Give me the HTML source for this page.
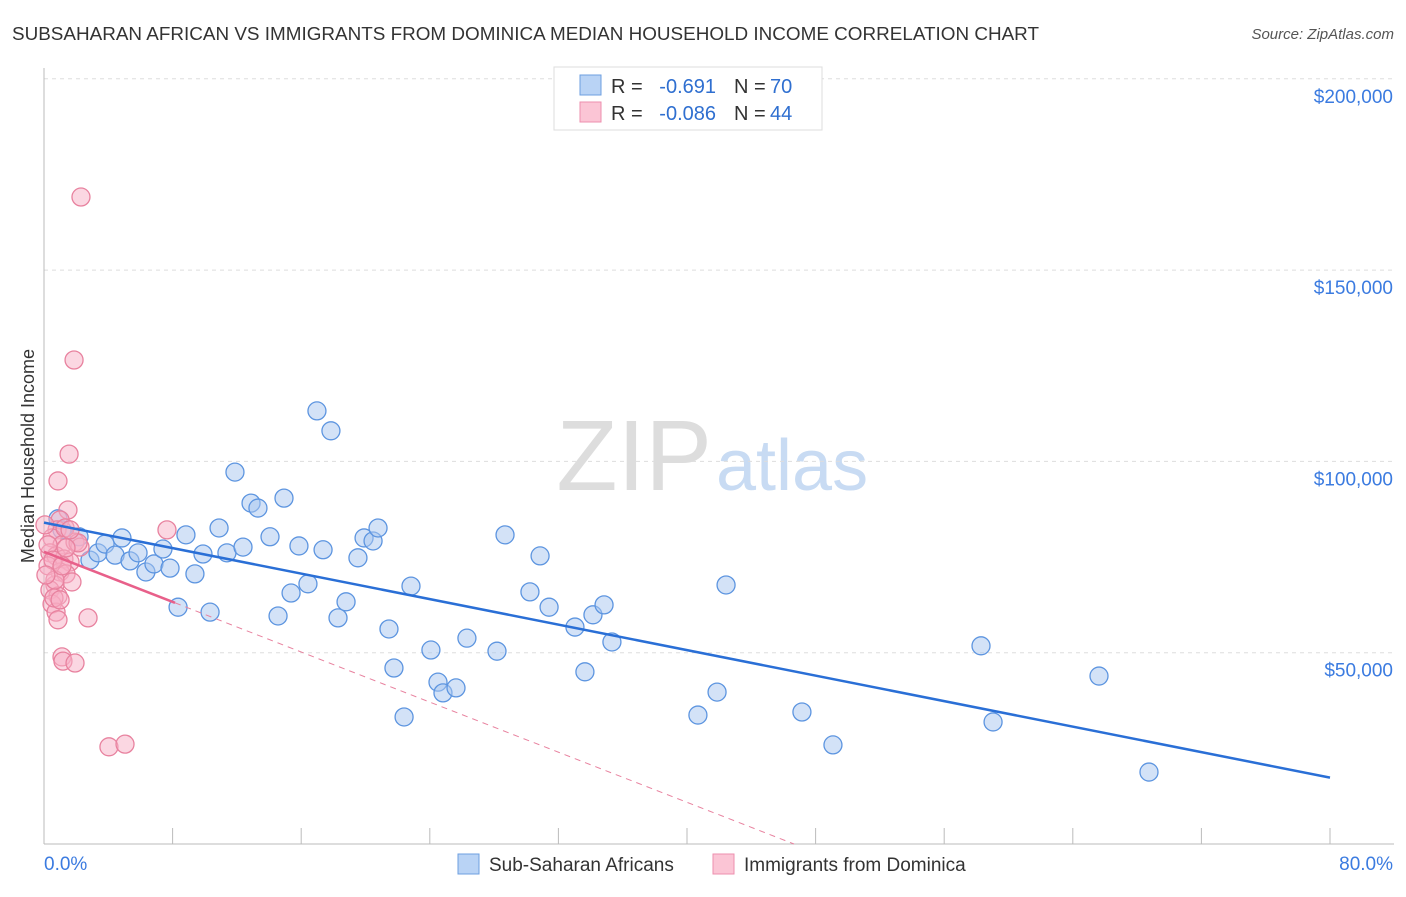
<!DOCTYPE html>
<html><head><meta charset="utf-8"><style>
body{margin:0;background:#fff;font-family:"Liberation Sans",sans-serif;}
svg text{font-family:"Liberation Sans",sans-serif;}
</style></head><body>
<svg id="c" width="1406" height="892" xmlns="http://www.w3.org/2000/svg">
<text x="12" y="40" font-size="18" fill="#333" textLength="1027" lengthAdjust="spacingAndGlyphs">SUBSAHARAN AFRICAN VS IMMIGRANTS FROM DOMINICA MEDIAN HOUSEHOLD INCOME CORRELATION CHART</text>
<text x="1394" y="39" font-size="15" fill="#555" font-style="italic" text-anchor="end">Source: ZipAtlas.com</text>
<text x="34" y="456" font-size="18" fill="#333" transform="rotate(-90 34 456)" text-anchor="middle">Median Household Income</text>
<text x="712" y="490" font-size="100" fill="#ddd" text-anchor="end" font-family="Liberation Serif">ZIP</text>
<text x="716" y="490" font-size="72" fill="#c8dbf3">atlas</text>
<g id="grid"></g><g id="axes"></g><g id="blue"></g><g id="pink"></g><g id="lines"></g>
<g>
<rect x="554" y="67" width="268" height="63" fill="#fff" stroke="#ddd"/>
<rect x="580" y="75" width="21" height="20" fill="#b9d3f5" stroke="#6d9fe0"/>
<rect x="580" y="102" width="21" height="20" fill="#fbc5d5" stroke="#ee8fae"/>
<text x="611" y="93" font-size="20" fill="#333">R =</text>
<text x="716" y="93" font-size="20" fill="#2f6fd0" text-anchor="end">-0.691</text>
<text x="734" y="93" font-size="20" fill="#333">N =</text>
<text x="770" y="93" font-size="20" fill="#2f6fd0">70</text>
<text x="611" y="120" font-size="20" fill="#333">R =</text>
<text x="716" y="120" font-size="20" fill="#2f6fd0" text-anchor="end">-0.086</text>
<text x="734" y="120" font-size="20" fill="#333">N =</text>
<text x="770" y="120" font-size="20" fill="#2f6fd0">44</text>
</g>
<g>
<rect x="458" y="854" width="21" height="20" fill="#b9d3f5" stroke="#6d9fe0"/>
<text x="489" y="871" font-size="19" fill="#333">Sub-Saharan Africans</text>
<rect x="713" y="854" width="21" height="20" fill="#fbc5d5" stroke="#ee8fae"/>
<text x="744" y="871" font-size="19" fill="#333">Immigrants from Dominica</text>
</g>
</svg>
<script>
const blueX=[0.87,1.12,2.18,2.86,3.36,3.80,4.42,4.85,5.35,5.85,6.34,6.84,7.40,7.84,8.34,8.83,9.39,9.89,10.33,10.89,11.38,12.38,11.88,12.88,13.31,14.06,14.56,14.93,15.37,15.86,16.42,16.98,17.36,17.85,18.29,18.79,19.53,19.91,20.47,20.78,21.46,21.77,22.40,22.83,24.07,24.51,24.82,25.63,26.31,28.18,28.68,30.23,30.86,31.42,33.03,33.65,34.15,34.84,35.33,40.68,41.87,42.43,47.15,49.08,58.29,59.04,65.63,68.74];
const blueY=[85.0,82.1,80.3,74.2,76.1,78.4,75.5,80.0,74.0,76.1,71.1,73.2,77.1,72.1,61.9,80.8,70.6,75.8,60.6,82.6,76.1,77.6,97.2,89.1,87.8,80.3,59.6,90.4,65.6,77.9,68.0,113.2,76.9,108.0,59.1,63.3,74.8,80.0,79.2,82.6,56.2,46.0,33.2,67.4,50.7,42.3,39.5,40.8,53.8,50.4,80.8,65.9,75.3,61.9,56.7,45.0,59.9,62.5,52.8,33.7,39.7,67.7,34.5,25.9,51.8,31.9,43.9,18.8];
const pinkX=[2.30,1.87,1.56,0.87,1.49,1.00,0.81,0.50,1.12,1.93,2.24,0.37,0.75,1.24,1.62,0.25,1.00,1.37,1.74,0.68,0.37,0.87,0.50,0.75,0.87,2.74,1.12,1.18,1.93,4.04,5.04,7.65,0.06,0.25,0.56,1.31,2.12,0.68,1.12,1.37,0.12,0.62,1.62,1.00];
const pinkY=[169.1,126.5,101.9,94.9,87.3,84.7,82.1,80.0,78.2,78.9,77.6,76.1,75.3,74.5,73.7,72.7,71.1,70.6,68.5,67.7,66.4,64.8,62.7,60.6,58.6,59.1,48.9,47.8,47.3,25.4,26.1,82.1,83.4,78.2,74.2,82.6,78.7,69.0,72.7,77.4,70.3,64.3,82.1,63.8];
const yTicks=[50,100,150,200];
const yTickLabels=["$50,000","$100,000","$150,000","$200,000"];
const xTickVals=[0,8,16,24,32,40,48,56,64,72,80];
const NS="http://www.w3.org/2000/svg";
const X0=44,X1=1330,Y0=844,PXK=191.3/50;
function sx(v){return X0+(X1-X0)*v/80;}
function sy(v){return Y0-v*PXK;}
function mk(t,p,a){const e=document.createElementNS(NS,t);for(const k in a)e.setAttribute(k,a[k]);p.appendChild(e);return e;}
const grid=document.getElementById('grid'),axes=document.getElementById('axes');
yTicks.forEach((v,i)=>{
 const l=mk('line',grid,{x1:44,x2:1394,y1:sy(v),y2:sy(v),stroke:'#ddd','stroke-dasharray':'4,4'});
 
 
 const t=mk('text',axes,{x:1393,y:sy(v)+24,'font-size':19,fill:'#3b7be0','text-anchor':'end'});
 t.textContent=yTickLabels[i];
 
 
});
const ax=mk('line',axes,{x1:44,x2:44,y1:68,y2:844,stroke:'#bbb'});


const bx=mk('line',axes,{x1:44,x2:1394,y1:844,y2:844,stroke:'#bbb'});


xTickVals.forEach(v=>{
 const l=mk('line',axes,{x1:sx(v),x2:sx(v),y1:828,y2:844,stroke:'#bbb'});
 
 
});
const xl=mk('text',axes,{x:44,y:870,'font-size':19,fill:'#3b7be0'});xl.textContent='0.0%';


const xr=mk('text',axes,{x:1393,y:870,'font-size':19,fill:'#3b7be0','text-anchor':'end'});xr.textContent='80.0%';


function pts(g,xs,ys,fill,stroke,name){xs.forEach((x,i)=>{
 const c=mk('circle',g,{cx:sx(x),cy:sy(ys[i]),r:9,fill:fill,'fill-opacity':0.5,stroke:stroke,'stroke-width':1.3});
 
 
});}
pts(document.getElementById('blue'),blueX,blueY,'#a7c6f0','#5d95e0','point-sub-saharan');
pts(document.getElementById('pink'),pinkX,pinkY,'#f7b0c6','#e8829f','point-dominica');
function fit(xs,ys){const n=xs.length;let mx=0,my=0;for(let i=0;i<n;i++){mx+=xs[i];my+=ys[i];}mx/=n;my/=n;let a=0,b=0;for(let i=0;i<n;i++){a+=(xs[i]-mx)*(ys[i]-my);b+=(xs[i]-mx)**2;}const s=a/b;return[s,my-s*mx];}
const lg=document.getElementById('lines');
const [bs,bi]=fit(blueX,blueY);
const bl=mk('line',lg,{x1:sx(0),y1:sy(bi),x2:sx(80),y2:sy(bi+bs*80),stroke:'#2a6fd6','stroke-width':2.5});


const [ps,pi]=fit(pinkX,pinkY);
const pmax=Math.max(...pinkX)+0.5;
let xe=80;if(ps<0){xe=Math.min(80,-pi/ps);}
const pd=mk('line',lg,{x1:sx(pmax),y1:sy(pi+ps*pmax),x2:sx(xe),y2:sy(pi+ps*xe),stroke:'#e8829f','stroke-width':1,'stroke-dasharray':'6,5'});


const pl=mk('line',lg,{x1:sx(0),y1:sy(pi),x2:sx(pmax),y2:sy(pi+ps*pmax),stroke:'#e8608a','stroke-width':2.5});


</script>
</body></html>
